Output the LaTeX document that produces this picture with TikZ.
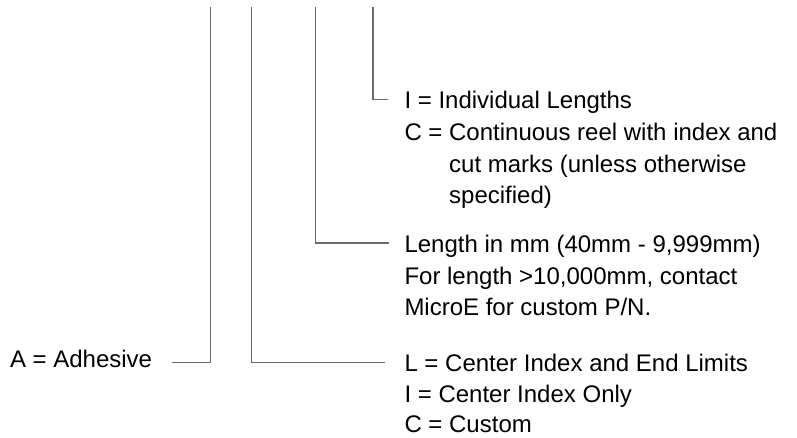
\documentclass[tikz,border=0pt]{standalone}
\usepackage{fontspec}
\setmainfont{Liberation Sans}
\begin{document}
\begin{tikzpicture}[x=1pt,y=-1pt,
  lead/.style={draw=black!58, line width=1.4pt},
  txt/.style={anchor=base west, inner sep=0pt, outer sep=0pt, font=\fontsize{24}{32}\selectfont, text=black}]
\useasboundingbox (0,0) rectangle (797,437);
% top free ends
\coordinate (t1) at (210.6,7);
\coordinate (t2) at (251.5,7);
\coordinate (t3) at (315.6,7);
\coordinate (t4) at (372.8,7);
% texts
\node[txt] (adh) at (10,367.5) {A = Adhesive};
\node[txt] (i1) at (404.5,108) {I = Individual Lengths};
\node[txt] (i2) at (404.5,140) {C = Continuous reel with index and};
\node[txt] (i3) at (404.5,172) {\hphantom{C = }cut marks (unless otherwise};
\node[txt] (i4) at (404.5,203) {\hphantom{C = }specified)};
\node[txt] (l1) at (404.5,252) {Length in mm (40mm - 9,999mm)};
\node[txt] (l2) at (404.5,284) {For length >10,000mm, contact};
\node[txt] (l3) at (404.5,315.5) {MicroE for custom P/N.};
\node[txt] (c1) at (404.5,371.5) {L = Center Index and End Limits};
\node[txt] (c2) at (404.5,402) {I = Center Index Only};
\node[txt] (c3) at (404.5,432) {C = Custom};
% horizontal end points
\coordinate (e1) at (172,362.7);
\coordinate (e2) at (385,362.5);
\coordinate (e3) at (389,243);
\coordinate (e4) at (388,99.6);
% leaders
\draw[lead] (t1) |- (e1);
\draw[lead] (t2) |- (e2);
\draw[lead] (t3) |- (e3);
\draw[lead] (t4) |- (e4);
\end{tikzpicture}
\end{document}
